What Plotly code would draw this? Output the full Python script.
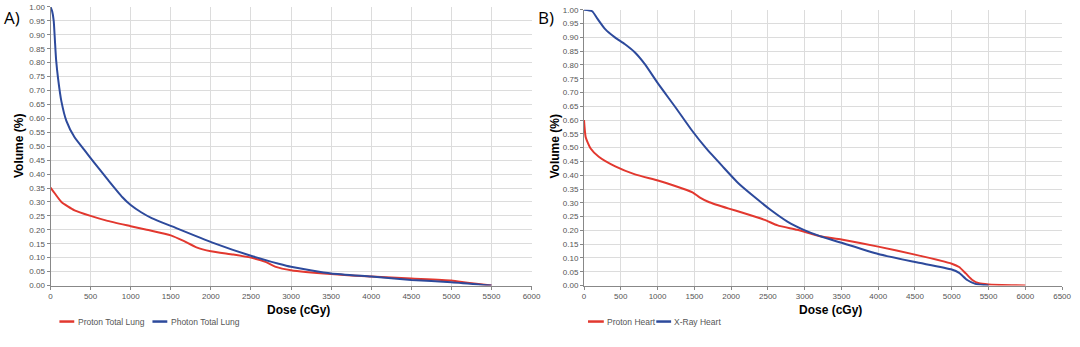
import plotly.graph_objects as go

# Panel A - Total Lung
a_proton_x = [0, 30, 136, 300, 500, 700, 1000, 1200, 1500, 1660, 1820, 2000, 2280, 2500, 2690, 2810, 3000, 3500, 4000, 4500, 5000, 5200, 5500]
a_proton_y = [0.351, 0.34, 0.30, 0.27, 0.25, 0.233, 0.213, 0.20, 0.18, 0.16, 0.137, 0.123, 0.111, 0.10, 0.084, 0.067, 0.055, 0.041, 0.032, 0.025, 0.018, 0.01, 0.0]
a_photon_x = [0, 20, 40, 55, 70, 95, 136, 198, 300, 424, 547, 712, 897, 1000, 1130, 1262, 1517, 2020, 2529, 2846, 3000, 3500, 4000, 4500, 5000, 5500]
a_photon_y = [1.0, 0.985, 0.95, 0.88, 0.81, 0.742, 0.661, 0.591, 0.532, 0.486, 0.44, 0.381, 0.317, 0.289, 0.263, 0.242, 0.212, 0.154, 0.104, 0.078, 0.067, 0.043, 0.032, 0.02, 0.012, 0.0]

# Panel B - Heart
b_proton_x = [0, 23, 90, 201, 425, 693, 1005, 1229, 1475, 1571, 1704, 1969, 2146, 2456, 2633, 2898, 3208, 3500, 4000, 4500, 5000, 5100, 5190, 5280, 5370, 5500, 6000]
b_proton_y = [0.60, 0.538, 0.497, 0.467, 0.432, 0.403, 0.381, 0.362, 0.338, 0.32, 0.302, 0.279, 0.265, 0.238, 0.218, 0.202, 0.179, 0.167, 0.141, 0.112, 0.079, 0.067, 0.044, 0.02, 0.008, 0.004, 0.0]
b_xray_x = [0, 111, 177, 288, 420, 553, 686, 827, 1005, 1250, 1460, 1659, 1881, 2102, 2323, 2544, 2765, 2987, 3208, 3500, 4000, 4500, 5000, 5100, 5210, 5320, 5500]
b_xray_y = [1.0, 0.995, 0.97, 0.93, 0.90, 0.876, 0.847, 0.803, 0.733, 0.644, 0.565, 0.498, 0.433, 0.37, 0.32, 0.273, 0.232, 0.202, 0.179, 0.155, 0.114, 0.085, 0.058, 0.046, 0.02, 0.006, 0.0]

a_names = ["Proton Total Lung", "Photon Total Lung"]
b_names = ["Proton Heart", "X-Ray Heart"]

RED = "#e2382f"
BLUE = "#2d4a9c"
W, H = 1080, 347
FONT = "Liberation Sans, Arial"

fig = go.Figure()
line_kw = dict(width=2, shape="spline", smoothing=0.5)
fig.add_trace(go.Scatter(x=a_proton_x, y=a_proton_y, mode="lines", name=a_names[0],
                         line=dict(color=RED, **line_kw), xaxis="x", yaxis="y"))
fig.add_trace(go.Scatter(x=a_photon_x, y=a_photon_y, mode="lines", name=a_names[1],
                         line=dict(color=BLUE, **line_kw), xaxis="x", yaxis="y"))
fig.add_trace(go.Scatter(x=b_proton_x, y=b_proton_y, mode="lines", name=b_names[0],
                         line=dict(color=RED, **line_kw), xaxis="x2", yaxis="y2"))
fig.add_trace(go.Scatter(x=b_xray_x, y=b_xray_y, mode="lines", name=b_names[1],
                         line=dict(color=BLUE, **line_kw), xaxis="x2", yaxis="y2"))

tickfont = dict(family=FONT, size=8, color="#555")
common_x = dict(showgrid=True, gridcolor="#dcdcdc", gridwidth=1, zeroline=False, showline=True,
                linecolor="#888", ticks="outside", ticklen=3, tickcolor="#888", tickfont=tickfont)
common_y = dict(showgrid=True, gridcolor="#dcdcdc", gridwidth=1, zeroline=False, showline=True,
                linecolor="#888", ticks="outside", ticklen=3, tickcolor="#888", tickfont=tickfont,
                range=[0, 1.0], dtick=0.05, tickformat=".2f")

# Custom legends (swatch line + label) under each panel
legend_items = [
    (a_names[0], RED, 58, 73, 75),
    (a_names[1], BLUE, 152, 167, 169),
    (b_names[0], RED, 592, 608, 609),
    (b_names[1], BLUE, 661, 676, 677),
]
ly = 1 - 326 / H
shapes = []
annotations = []
for name, col, x0, x1, tx in legend_items:
    shapes.append(dict(type="line", xref="paper", yref="paper", x0=x0 / W, x1=x1 / W, y0=ly, y1=ly,
                       line=dict(color=col, width=2.5)))
    annotations.append(dict(text=name, x=tx / W, y=ly, xref="paper", yref="paper", xanchor="left",
                            yanchor="middle", showarrow=False, font=dict(family=FONT, size=8.5, color="#555")))

annotations += [
    dict(text="A)", x=0, y=1 - 14 / H, xref="paper", yref="paper", xanchor="left", yanchor="middle",
         showarrow=False, font=dict(family="Open Sans, Liberation Sans", size=17, color="black")),
    dict(text="B)", x=539 / W, y=1 - 14 / H, xref="paper", yref="paper", xanchor="left", yanchor="middle",
         showarrow=False, font=dict(family="Open Sans, Liberation Sans", size=17, color="black")),
    dict(text="<b>Dose (cGy)</b>", x=300 / W, y=1 - 314 / H, xref="paper", yref="paper", xanchor="center",
         yanchor="middle", showarrow=False, font=dict(family=FONT, size=12, color="black")),
    dict(text="<b>Dose (cGy)</b>", x=837 / W, y=1 - 314 / H, xref="paper", yref="paper", xanchor="center",
         yanchor="middle", showarrow=False, font=dict(family=FONT, size=12, color="black")),
    dict(text="<b>Volume (%)</b>", x=17 / W, y=1 - 146 / H, xref="paper", yref="paper", xanchor="center",
         yanchor="middle", textangle=-90, showarrow=False, font=dict(family=FONT, size=12, color="black")),
    dict(text="<b>Volume (%)</b>", x=559 / W, y=1 - 146 / H, xref="paper", yref="paper", xanchor="center",
         yanchor="middle", textangle=-90, showarrow=False, font=dict(family=FONT, size=12, color="black")),
]

fig.update_layout(
    width=W, height=H,
    margin=dict(l=0, r=0, t=0, b=0),
    paper_bgcolor="white", plot_bgcolor="white",
    showlegend=False,
    xaxis=dict(domain=[49 / W, 535 / W], range=[0, 6000], dtick=500, anchor="y", **common_x),
    yaxis=dict(domain=[1 - 289 / H, 1 - 3 / H], anchor="x", **common_y),
    xaxis2=dict(domain=[588 / W, 1071 / W], range=[0, 6500], dtick=500, anchor="y2", **common_x),
    yaxis2=dict(domain=[1 - 289 / H, 1 - 6 / H], anchor="x2", **common_y),
    shapes=shapes,
    annotations=annotations,
)

fig.write_html("out.html")
